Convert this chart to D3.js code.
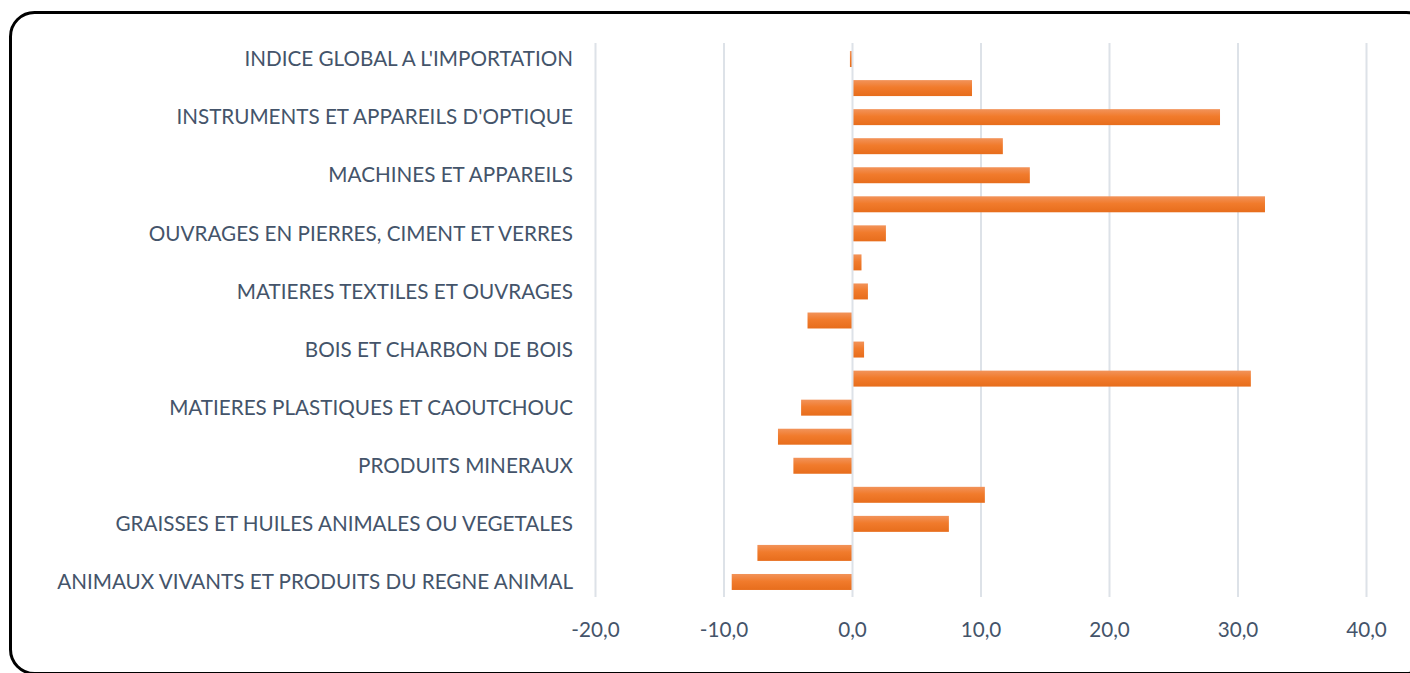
<!DOCTYPE html>
<html>
<head>
<meta charset="utf-8">
<script src="https://cdn.jsdelivr.net/npm/d3@7"></script>
<style>
  html, body { margin: 0; padding: 0; background: #ffffff; }
  svg { display: block; }
</style>
</head>
<body>
<svg id="chart" width="1410" height="673"></svg>
<script>
// Categories, top to bottom
const categories = [
  "INDICE GLOBAL A L'IMPORTATION",
  "MARCHANDISES ET PRODUITS DIVERS",
  "INSTRUMENTS ET APPAREILS D'OPTIQUE",
  "MATERIEL DE TRANSPORT",
  "MACHINES ET APPAREILS",
  "METAUX COMMUNS ET OUVRAGES",
  "OUVRAGES EN PIERRES, CIMENT ET VERRES",
  "CHAUSSURES, COIFFURES",
  "MATIERES TEXTILES ET OUVRAGES",
  "PATES DE BOIS, PAPIER ET CARTON",
  "BOIS ET CHARBON DE BOIS",
  "PEAUX, CUIRS ET PELLETERIES",
  "MATIERES PLASTIQUES ET CAOUTCHOUC",
  "PRODUITS DES INDUSTRIES CHIMIQUES",
  "PRODUITS MINERAUX",
  "PRODUITS DES INDUSTRIES ALIMENTAIRES",
  "GRAISSES ET HUILES ANIMALES OU VEGETALES",
  "PRODUITS DU REGNE VEGETAL",
  "ANIMAUX VIVANTS ET PRODUITS DU REGNE ANIMAL"
];
// Only every other category label is shown (as in the original)
const shownLabels = [
  "INDICE GLOBAL A L'IMPORTATION",
  "INSTRUMENTS ET APPAREILS D'OPTIQUE",
  "MACHINES ET APPAREILS",
  "OUVRAGES EN PIERRES, CIMENT ET VERRES",
  "MATIERES TEXTILES ET OUVRAGES",
  "BOIS ET CHARBON DE BOIS",
  "MATIERES PLASTIQUES ET CAOUTCHOUC",
  "PRODUITS MINERAUX",
  "GRAISSES ET HUILES ANIMALES OU VEGETALES",
  "ANIMAUX VIVANTS ET PRODUITS DU REGNE ANIMAL"
];
const values = [
  -0.2, 9.3, 28.6, 11.7, 13.8, 32.1, 2.6, 0.7, 1.2, -3.5,
  0.9, 31.0, -4.0, -5.8, -4.6, 10.3, 7.5, -7.4, -9.4
];
const tickValues = [-20, -10, 0, 10, 20, 30, 40];
const tickLabels = ["-20,0", "-10,0", "0,0", "10,0", "20,0", "30,0", "40,0"];

const data = categories.map((c, i) => ({ cat: c, value: values[i] }));

const svg = d3.select("#chart");
const FONT = "Lato, 'Open Sans', sans-serif";
const TEXT = "#44546a";

// Frame
svg.append("rect")
  .attr("x", 10.5).attr("y", 12.5)
  .attr("width", 1420).attr("height", 661)
  .attr("rx", 24).attr("ry", 24)
  .attr("fill", "#ffffff")
  .attr("stroke", "#000000").attr("stroke-width", 3);

const defs = svg.append("defs");
const grad = defs.append("linearGradient")
  .attr("id", "barGrad").attr("x1", 0).attr("y1", 0).attr("x2", 0).attr("y2", 1);
grad.append("stop").attr("offset", "0%").attr("stop-color", "#f2935a");
grad.append("stop").attr("offset", "45%").attr("stop-color", "#f17b2c");
grad.append("stop").attr("offset", "100%").attr("stop-color", "#e76d1c");

const x = d3.scaleLinear().domain([-20, 40]).range([595.5, 1366.5]);
const y = d3.scaleBand().domain(categories).range([44.5, 596.5]).paddingInner(0.45).paddingOuter(0.225);

const plotTop = 43, plotBottom = 597;

// Grid lines (excluding zero)
svg.append("g").selectAll("line")
  .data(tickValues.filter(v => v !== 0))
  .join("line")
  .attr("x1", d => x(d)).attr("x2", d => x(d))
  .attr("y1", plotTop).attr("y2", plotBottom)
  .attr("stroke", "#dde2e8").attr("stroke-width", 2);

// Bars
svg.append("g").selectAll("rect")
  .data(data)
  .join("rect")
  .attr("x", d => x(Math.min(0, d.value)))
  .attr("width", d => Math.abs(x(d.value) - x(0)))
  .attr("y", d => y(d.cat))
  .attr("height", y.bandwidth())
  .attr("fill", "url(#barGrad)");

// Zero axis line on top
svg.append("line")
  .attr("x1", x(0)).attr("x2", x(0))
  .attr("y1", plotTop).attr("y2", plotBottom)
  .attr("stroke", "#dde2e8").attr("stroke-width", 2);

// Category labels
const labelG = svg.append("g");
const labels = labelG.selectAll("text")
  .data(shownLabels)
  .join("text")
  .attr("x", 573)
  .attr("y", d => y(d) + y.bandwidth() / 2)
  .attr("dy", "0.35em")
  .attr("text-anchor", "end")
  .attr("font-family", FONT)
  .attr("font-size", 20)
  .attr("fill", TEXT)
  .text(d => d);

// fit font size so longest label spans like the original (~516px)
const longest = labels.filter(d => d === "ANIMAUX VIVANTS ET PRODUITS DU REGNE ANIMAL").node();
const w = longest.getComputedTextLength();
const fs = 20 * 516 / w;
labels.attr("font-size", fs);

// X axis tick labels
svg.append("g").selectAll("text")
  .data(tickValues)
  .join("text")
  .attr("x", d => x(d))
  .attr("y", 637)
  .attr("text-anchor", "middle")
  .attr("font-family", FONT)
  .attr("font-size", fs)
  .attr("fill", TEXT)
  .text((d, i) => tickLabels[i]);
</script>
</body>
</html>
